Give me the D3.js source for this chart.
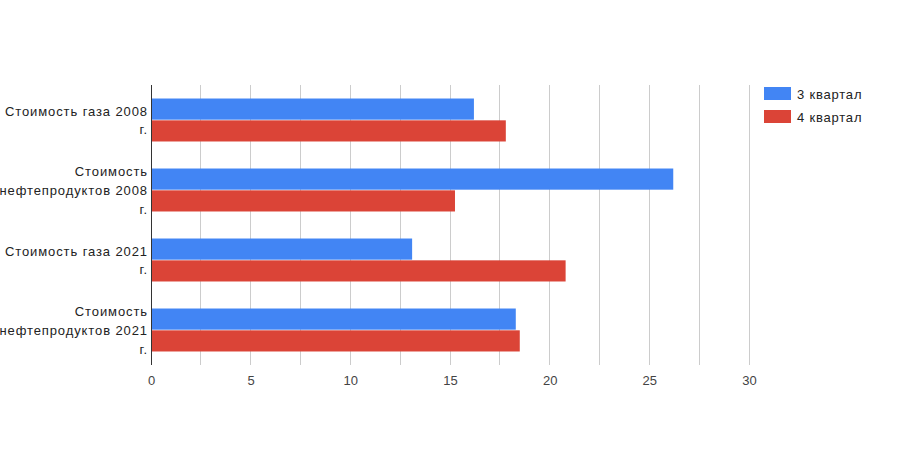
<!DOCTYPE html>
<html><head><meta charset="utf-8">
<script src="https://cdn.jsdelivr.net/npm/d3@7"></script>
<style>body{margin:0;background:#fff}text{font-family:"Liberation Sans",Arial,sans-serif}</style>
</head><body><svg id="c" width="900" height="450"></svg>
<script>
const categories = [
  ["Стоимость газа 2008", "г."],
  ["Стоимость", "нефтепродуктов 2008", "г."],
  ["Стоимость газа 2021", "г."],
  ["Стоимость", "нефтепродуктов 2021", "г."]
];
const seriesNames = ["3 квартал", "4 квартал"];
const q3 = [16.2, 26.2, 13.1, 18.3];
const q4 = [17.8, 15.25, 20.8, 18.5];
const ticks = [0, 5, 10, 15, 20, 25, 30];
const colors = ["#4285F4", "#DB4437"];

const svg = d3.select("#c");
const m = {l:151, r:749, t:85, b:365};
const x = d3.scaleLinear().domain([0,30]).range([m.l, m.r]);
const y = d3.scaleBand().domain(d3.range(categories.length)).range([m.t, m.b]).paddingInner(0.386).paddingOuter(0.193);
const sub = d3.scaleBand().domain([0,1]).range([0, y.bandwidth()]).paddingInner(0.03);

// grid
svg.append("g").selectAll("line").data(d3.range(2.5, 30.01, 2.5)).join("line")
  .attr("x1", d=>x(d)).attr("x2", d=>x(d)).attr("y1", m.t).attr("y2", m.b)
  .attr("stroke", "#cccccc").attr("stroke-width", 1).attr("shape-rendering","crispEdges");

const data = categories.map((c,i)=>[q3[i], q4[i]]);
const g = svg.append("g");
data.forEach((vals,i)=>{
  vals.forEach((v,j)=>{
    g.append("rect").attr("x", x(0)).attr("y", y(i)+sub(j))
      .attr("width", x(v)-x(0)).attr("height", sub.bandwidth()).attr("fill", colors[j]);
  });
});

// axis line
svg.append("line").attr("x1", x(0)).attr("x2", x(0)).attr("y1", m.t).attr("y2", m.b)
  .attr("stroke", "#333").attr("shape-rendering","crispEdges");

// x tick labels
const xa = svg.append("g").attr("transform", `translate(0,${m.b})`)
  .call(d3.axisBottom(x).tickValues(ticks).tickSize(0).tickPadding(11));
xa.select(".domain").remove();
xa.selectAll("text").attr("font-size", 13).attr("fill", "#444").style("font-family","Liberation Sans, Arial, sans-serif");

// y labels
categories.forEach((lines,i)=>{
  const cy = y(i) + y.bandwidth()/2;
  const lh = 18.7;
  const t = svg.append("text").attr("text-anchor","end").attr("font-size",13).attr("fill","#222")
    .attr("letter-spacing", "0.9px");
  lines.forEach((ln,k)=>{
    t.append("tspan").attr("x", 148).attr("y", cy + (k - (lines.length-1)/2)*lh + 5).text(ln);
  });
});

// legend
seriesNames.forEach((n,j)=>{
  const ly = 87 + j*23;
  svg.append("rect").attr("x", 764).attr("y", ly).attr("width", 27).attr("height", 13).attr("fill", colors[j]);
  svg.append("text").attr("x", 797).attr("y", ly+11.5).attr("font-size",13).attr("fill","#222")
    .attr("letter-spacing", "0.8px").text(n);
});
</script></body></html>
